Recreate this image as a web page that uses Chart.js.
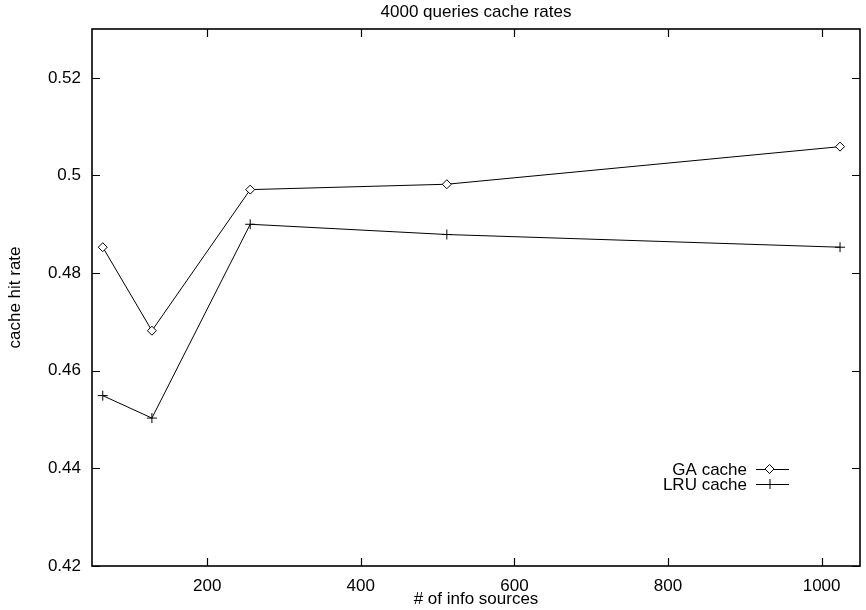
<!DOCTYPE html>
<html>
<head>
<meta charset="utf-8">
<script src="https://cdn.jsdelivr.net/npm/chart.js@4.4.1/dist/chart.umd.min.js"></script>
<style>
  html, body { margin: 0; padding: 0; background: #ffffff; }
  #wrap { width: 866px; height: 610px; }
</style>
</head>
<body>
<div id="wrap"><canvas id="c" width="866" height="610"></canvas></div>
<script>
const sources = [64, 128, 256, 512, 1024];
const gaCache = [0.4853, 0.4682, 0.4971, 0.4982, 0.5059];
const lruCache = [0.4549, 0.4503, 0.4900, 0.4879, 0.4853];
const xTicks = [200, 400, 600, 800, 1000];
const yTicks = [0.42, 0.44, 0.46, 0.48, 0.50, 0.52];
const seriesLabels = ['GA cache', 'LRU cache'];

const FONT = '"Liberation Sans", Arial, Helvetica, sans-serif';

const framePlugin = {
  id: 'frame',
  afterDraw(chart) {
    const ctx = chart.ctx;
    const a = chart.chartArea;
    const xs = chart.scales.x, ys = chart.scales.y;
    ctx.save();
    ctx.strokeStyle = '#000';
    // ticks (inward, mirrored)
    ctx.lineWidth = 1.2;
    const tl = 8;
    ctx.beginPath();
    xTicks.forEach(v => {
      const px = Math.round(xs.getPixelForValue(v)) + 0.5;
      ctx.moveTo(px, a.bottom); ctx.lineTo(px, a.bottom - tl);
      ctx.moveTo(px, a.top); ctx.lineTo(px, a.top + tl);
    });
    yTicks.forEach(v => {
      const py = Math.round(ys.getPixelForValue(v)) + 0.5;
      ctx.moveTo(a.left, py); ctx.lineTo(a.left + tl, py);
      ctx.moveTo(a.right, py); ctx.lineTo(a.right - tl, py);
    });
    ctx.stroke();
    // frame
    ctx.lineWidth = 1.6;
    ctx.strokeRect(a.left, a.top, a.right - a.left, a.bottom - a.top);

    // legend (gnuplot style: text right-aligned, then sample line with marker)
    ctx.font = '17px ' + FONT;
    ctx.fillStyle = '#000';
    ctx.textAlign = 'right';
    ctx.textBaseline = 'middle';
    const textRight = a.right - 113;
    const lineL = a.right - 104, lineR = a.right - 71;
    const y0 = a.bottom - 97, dy = 15;
    chart.data.datasets.forEach((ds, i) => {
      const y = y0 + i * dy;
      ctx.fillText(ds.label, textRight, y + 1);
      ctx.lineWidth = 1;
      ctx.beginPath();
      ctx.moveTo(lineL, y + 0.5); ctx.lineTo(lineR, y + 0.5);
      ctx.stroke();
      const cx = (lineL + lineR) / 2 - 3;
      const r = ds.pointRadius;
      ctx.beginPath();
      if (ds.pointStyle === 'rectRot') {
        ctx.moveTo(cx, y - r); ctx.lineTo(cx + r, y); ctx.lineTo(cx, y + r); ctx.lineTo(cx - r, y); ctx.closePath();
        ctx.fillStyle = '#fff'; ctx.fill(); ctx.stroke(); ctx.fillStyle = '#000';
      } else {
        ctx.moveTo(cx - r, y + 0.5); ctx.lineTo(cx + r, y + 0.5);
        ctx.moveTo(cx + 0.5, y - r); ctx.lineTo(cx + 0.5, y + r);
        ctx.stroke();
      }
    });
    ctx.restore();
  }
};

new Chart(document.getElementById('c'), {
  type: 'line',
  data: {
    datasets: [
      {
        label: seriesLabels[0],
        data: sources.map((s, i) => ({ x: s, y: gaCache[i] })),
        borderColor: '#000', backgroundColor: '#fff',
        borderWidth: 1, pointStyle: 'rectRot', pointRadius: 4.5,
        pointBorderWidth: 1, pointBorderColor: '#000', pointBackgroundColor: '#fff',
        tension: 0, fill: false
      },
      {
        label: seriesLabels[1],
        data: sources.map((s, i) => ({ x: s, y: lruCache[i] })),
        borderColor: '#000', backgroundColor: '#000',
        borderWidth: 1, pointStyle: 'cross', pointRadius: 5,
        pointBorderWidth: 1, pointBorderColor: '#000',
        tension: 0, fill: false
      }
    ]
  },
  options: {
    responsive: false,
    animation: false,
    devicePixelRatio: 1,
    layout: { padding: { left: 0, right: 3, top: 0, bottom: 0 } },
    plugins: {
      legend: { display: false },
      tooltip: { enabled: false },
      title: {
        display: true,
        text: '4000 queries cache rates',
        color: '#000',
        fullSize: false,
        font: { family: FONT, size: 17, weight: 'normal', lineHeight: 1.2 },
        padding: { top: 2, bottom: 6.6 }
      }
    },
    scales: {
      x: {
        type: 'linear',
        min: 50, max: 1050,
        afterBuildTicks: s => { s.ticks = xTicks.map(v => ({ value: v })); },
        grid: { display: false, drawTicks: false },
        border: { display: false },
        ticks: { color: '#000', font: { family: FONT, size: 17 }, padding: 10, maxRotation: 0, autoSkip: false, callback: v => String(v) },
        title: { display: true, text: '# of info sources', color: '#000', font: { family: FONT, size: 17 }, padding: { top: -3, bottom: 0 } },
        afterFit: s => { s.height = 44; }
      },
      y: {
        type: 'linear',
        min: 0.42, max: 0.53,
        afterBuildTicks: s => { s.ticks = yTicks.map(v => ({ value: v })); },
        grid: { display: false, drawTicks: false },
        border: { display: false },
        ticks: { color: '#000', font: { family: FONT, size: 17 }, padding: 11, callback: v => String(Math.round(v * 100) / 100) },
        title: { display: true, text: 'cache hit rate', color: '#000', font: { family: FONT, size: 17 }, padding: { top: 5, bottom: 0 } },
        afterFit: s => { s.width = 92; }
      }
    }
  },
  plugins: [framePlugin]
});
</script>
</body>
</html>
